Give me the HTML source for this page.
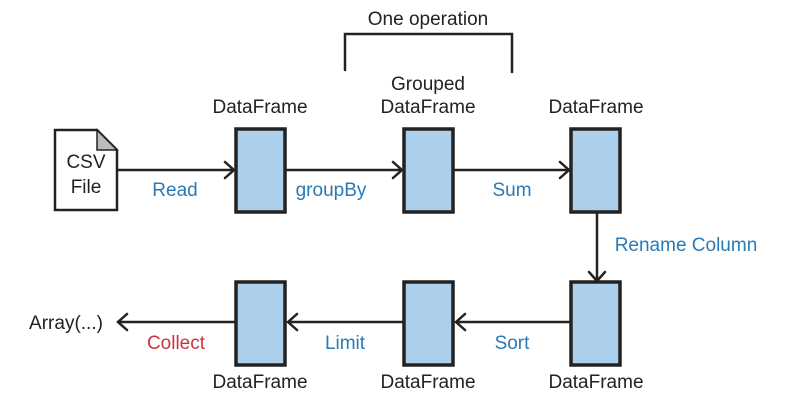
<!DOCTYPE html>
<html><head><style>
body{margin:0;background:#fff}
svg text{font-family:"Liberation Sans",sans-serif;font-size:19px}
</style></head><body>
<svg width="790" height="405" viewBox="0 0 790 405" xmlns="http://www.w3.org/2000/svg">
<g fill="none" stroke="#222" stroke-width="2.5" stroke-linecap="round">
<path d="M345 70 L345 34 L512 34 L512 72"/>
<path d="M55 130 L97 130 L117 150 L117 210 L55 210 Z" fill="#fff"/>
<path d="M97 130 L97 150 L117 150 Z" fill="#bbb" stroke-width="1.5"/>
<path d="M118 170 L234 170 M225 162 L234 170 L225 178"/>
<path d="M286 170 L402 170 M393 162 L402 170 L393 178"/>
<path d="M454 170 L569 170 M560 162 L569 170 L560 178"/>
<path d="M597 213 L597 281 M589 272 L597 281 L605 272"/>
<path d="M569 322 L456 322 M465 314 L456 322 L465 330"/>
<path d="M402 322 L288 322 M297 314 L288 322 L297 330"/>
<path d="M234 322 L118 322 M127 314 L118 322 L127 330"/>
</g>
<g fill="#acd0ec" stroke="#222" stroke-width="3.5">
<rect x="236" y="129" width="49" height="83"/>
<rect x="404" y="129" width="49" height="83"/>
<rect x="571" y="129" width="49" height="83"/>
<rect x="236" y="282" width="49" height="83"/>
<rect x="404" y="282" width="49" height="83"/>
<rect x="571" y="282" width="49" height="83"/>
</g>
<g fill="#222" text-anchor="middle">
<text x="428" y="25">One operation</text>
<text x="260" y="113">DataFrame</text>
<text x="428" y="90">Grouped</text>
<text x="428" y="113">DataFrame</text>
<text x="596" y="113">DataFrame</text>
<text x="86" y="168">CSV</text>
<text x="86" y="193">File</text>
<text x="260" y="388">DataFrame</text>
<text x="428" y="388">DataFrame</text>
<text x="596" y="388">DataFrame</text>
<text x="66" y="329">Array(...)</text>
</g>
<g fill="#2a7ab5" text-anchor="middle">
<text x="175" y="196">Read</text>
<text x="331" y="196">groupBy</text>
<text x="512" y="196">Sum</text>
<text x="686" y="251">Rename Column</text>
<text x="512" y="349">Sort</text>
<text x="345" y="349">Limit</text>
</g>
<text x="176" y="349" fill="#c9343f" text-anchor="middle">Collect</text>
</svg>
</body></html>
